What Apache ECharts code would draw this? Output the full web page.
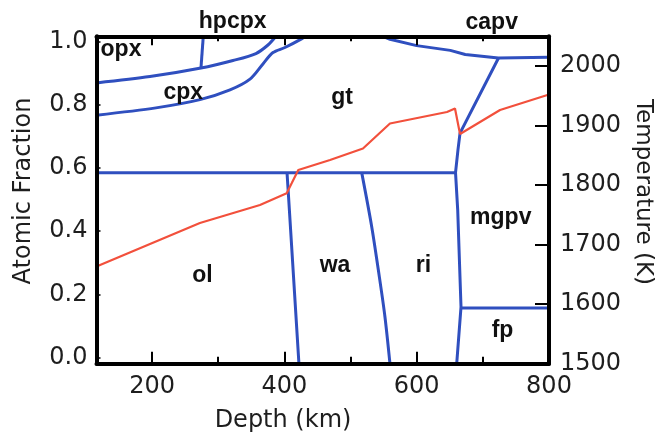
<!DOCTYPE html>
<html><head><meta charset="utf-8">
<script src="https://cdn.jsdelivr.net/npm/echarts@6/dist/echarts.min.js"></script>
<style>html,body{margin:0;padding:0;background:#fff}#c{width:658px;height:434px}</style>
</head><body><div id="c"></div>
<script>
// Axis ranges
const XMIN = 116, XMAX = 800;
const YMIN = -0.0196, YMAX = 1.0165;
const TMIN = 1500, TMAX = 2050;

// Tick labels
const depthTicks = [200, 400, 600, 800];
const depthMinorTicks = [300, 500, 700];
const fractionTicks = [0, 0.2, 0.4, 0.6, 0.8, 1.0];
const temperatureTicks = [1500, 1600, 1700, 1800, 1900, 2000];

// Phase boundaries: [depth (km), atomic fraction]
const olivineTop = [[116, 0.585], [658.7, 0.585]];
const olWa = [[404, 0.585], [406.3, 0.509], [422, YMIN]];
const waRi = [[516.9, 0.585], [532, 0.414], [543.5, 0.256], [552, 0.129], [559.6, YMIN]];
const mgpvBoundary = [[660.5, YMIN], [667, 0.160], [662, 0.467], [658.7, 0.585], [662.4, 0.657], [665.5, 0.710], [723.7, 0.948]];
const fpTop = [[667, 0.157], [800, 0.157]];
const capvBoundary = [[549, YMAX], [559.6, 1.007], [600, 0.987], [650.8, 0.972], [673.4, 0.959], [723.4, 0.948], [800, 0.950]];
const opxCpx = [[116, 0.869], [196.8, 0.889], [273.9, 0.916], [322.3, 0.940], [357, 0.962], [375.2, 0.989], [387.3, YMAX]];
const hpcpxBoundary = [[273.9, 0.916], [277.4, YMAX]];
const cpxGt = [[116, 0.767], [205.9, 0.790], [272.4, 0.816], [317.8, 0.847], [348, 0.881], [367.6, 0.929], [382.8, 0.965], [400.9, 0.981], [426.6, 1.009], [431.1, YMAX]];

// Temperature profile: [depth (km), temperature (K)]
const temperature = [[116, 1663.3], [272.3, 1736.4], [363.1, 1766.6], [403.5, 1786.3], [411, 1803], [421, 1825.4], [469, 1842.2], [518.8, 1861.5], [559.6, 1903.5], [645.8, 1922.9], [657.9, 1928.7], [665.5, 1885.9], [726, 1926.2], [800, 1952.3]];

// Phase names with anchor [depth, fraction]
const phaseNames = ['opx', 'hpcpx', 'cpx', 'gt', 'capv', 'mgpv', 'ri', 'wa', 'ol', 'fp'];
const phaseDepth = [153, 321.8, 247.2, 487.1, 713.4, 727.1, 610.3, 476.5, 276.2, 729.7];
const phaseFrac = [0.973, 1.064, 0.839, 0.821, 1.059, 0.441, 0.290, 0.290, 0.259, 0.084];

const BLUE = '#2f4fbf', RED = '#f2503c', INK = '#1e1e1e';
const TICKFONT = {fontSize: 24, fontFamily: 'DejaVu Sans', color: INK};

const chart = echarts.init(document.getElementById('c'), null, {renderer: 'canvas'});

function xAx(pos, ticks, len, showLine, labels) {
  return {
    type: 'value', position: pos, min: XMIN, max: XMAX, z: 10,
    axisLine: {show: showLine, onZero: false, lineStyle: {color: '#000', width: 4}},
    axisTick: {show: true, inside: true, length: len, customValues: ticks, lineStyle: {color: '#000', width: 2}},
    axisLabel: labels ? Object.assign({show: true, customValues: depthTicks, margin: 11, formatter: v => String(v)}, TICKFONT) : {show: false},
    splitLine: {show: false}
  };
}

const boundaries = [olivineTop, olWa, waRi, mgpvBoundary, fpTop, capvBoundary, opxCpx, hpcpxBoundary, cpxGt];
const smoothed = [false, false, 0.3, false, false, false, 0.3, false, 0.3];
const series = boundaries.map((d, i) => ({
  type: 'line', data: d, xAxisIndex: 0, yAxisIndex: 0, showSymbol: false, symbol: 'none',
  smooth: smoothed[i], lineStyle: {color: BLUE, width: 3}, z: 3, silent: true
}));
series.push({
  type: 'line', data: temperature, xAxisIndex: 0, yAxisIndex: 1, showSymbol: false, symbol: 'none',
  lineStyle: {color: RED, width: 2.2}, z: 4, silent: true
});

chart.setOption({
  animation: false,
  backgroundColor: '#fff',
  grid: {left: 96.5, right: 109, top: 36.3, bottom: 70.3, containLabel: false, outerBoundsMode: 'none'},
  xAxis: [
    xAx('bottom', depthTicks, 12, true, true),
    xAx('bottom', depthMinorTicks, 7, false, false),
    xAx('top', depthTicks, 9, true, false),
    xAx('top', depthMinorTicks, 5, false, false)
  ],
  yAxis: [
    {type: 'value', position: 'left', min: YMIN, max: YMAX, z: 10,
     axisLine: {show: true, onZero: false, lineStyle: {color: '#000', width: 4}},
     axisTick: {show: true, inside: true, length: 4, customValues: fractionTicks, lineStyle: {color: '#000', width: 1.5}},
     axisLabel: Object.assign({customValues: fractionTicks, margin: 9, formatter: v => v.toFixed(1)}, TICKFONT),
     splitLine: {show: false}},
    {type: 'value', position: 'right', min: TMIN, max: TMAX, z: 10,
     axisLine: {show: true, onZero: false, lineStyle: {color: '#000', width: 4}},
     axisTick: {show: true, inside: true, length: 14, customValues: temperatureTicks, lineStyle: {color: '#000', width: 2}},
     axisLabel: Object.assign({customValues: temperatureTicks, margin: 11, formatter: v => String(v)}, TICKFONT),
     splitLine: {show: false}}
  ],
  series: series
});

// Text: axis titles and phase names placed via the chart's own coordinate conversion
const labelGraphics = phaseNames.map((n, i) => {
  const p = chart.convertToPixel({xAxisIndex: 0, yAxisIndex: 0}, [phaseDepth[i], phaseFrac[i]]);
  return {type: 'text', x: p[0], y: p[1], z: 20,
    style: {text: n, fontSize: 23, fontWeight: 'bold', fontFamily: 'Liberation Sans', fill: '#111', align: 'center', verticalAlign: 'middle'}};
});
chart.setOption({
  graphic: [
    {type: 'text', x: 283, y: 421, style: {text: 'Depth (km)', fontSize: 24, fontFamily: 'DejaVu Sans', fill: INK, align: 'center', verticalAlign: 'middle'}},
    {type: 'text', x: 24, y: 191, rotation: Math.PI / 2, style: {text: 'Atomic Fraction', fontSize: 24, fontFamily: 'DejaVu Sans', fill: INK, align: 'center', verticalAlign: 'middle'}},
    {type: 'text', x: 643, y: 192, rotation: -Math.PI / 2, style: {text: 'Temperature (K)', fontSize: 23, fontFamily: 'DejaVu Sans', fill: INK, align: 'center', verticalAlign: 'middle'}}
  ].concat(labelGraphics)
});
</script></body></html>
